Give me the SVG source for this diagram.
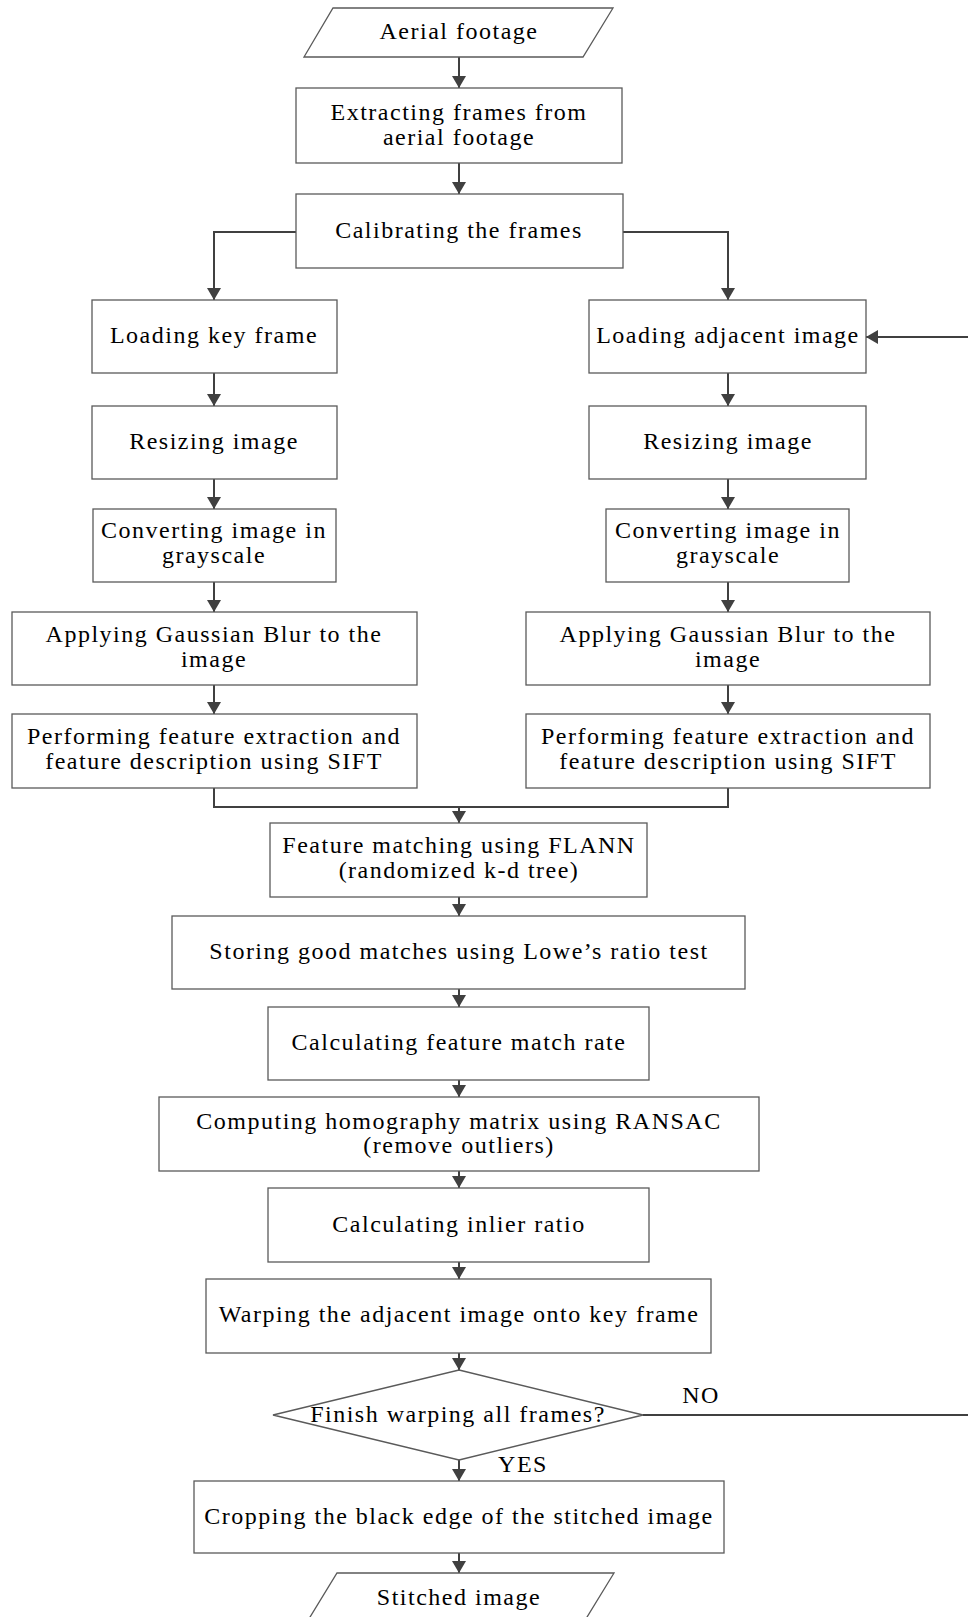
<svg xmlns="http://www.w3.org/2000/svg" width="968" height="1617" viewBox="0 0 968 1617">
<defs>
<marker id="ah" markerUnits="userSpaceOnUse" markerWidth="12" markerHeight="14" viewBox="0 0 12 14" refX="12" refY="7" orient="auto">
<path d="M0,0 L12,7 L0,14 z" fill="#404040"/>
</marker>
</defs>
<style>
.box{fill:#fff;stroke:#5a5a5a;stroke-width:1.3}
.t{font-family:"Liberation Serif","Times New Roman",serif;font-size:24px;fill:#000;text-anchor:middle;letter-spacing:1.5px}
.c{fill:none;stroke:#404040;stroke-width:2}
.a{fill:none;stroke:#404040;stroke-width:2;marker-end:url(#ah)}
</style>
<rect width="968" height="1617" fill="#fff"/>
<g id="connectors">
<line class="a" x1="459" y1="57" x2="459" y2="88"/>
<line class="a" x1="459" y1="163" x2="459" y2="194"/>
<polyline class="a" points="296,232 214,232 214,300"/>
<polyline class="a" points="623,232 728,232 728,300"/>
<line class="a" x1="968" y1="337" x2="866" y2="337"/>
<line class="a" x1="214" y1="373" x2="214" y2="406"/>
<line class="a" x1="214" y1="479" x2="214" y2="509"/>
<line class="a" x1="214" y1="582" x2="214" y2="612"/>
<line class="a" x1="214" y1="685" x2="214" y2="714"/>
<line class="a" x1="728" y1="373" x2="728" y2="406"/>
<line class="a" x1="728" y1="479" x2="728" y2="509"/>
<line class="a" x1="728" y1="582" x2="728" y2="612"/>
<line class="a" x1="728" y1="685" x2="728" y2="714"/>
<polyline class="c" points="214,788 214,807 728,807 728,788"/>
<line class="a" x1="459" y1="807" x2="459" y2="823"/>
<line class="a" x1="459" y1="897" x2="459" y2="916"/>
<line class="a" x1="459" y1="989" x2="459" y2="1007"/>
<line class="a" x1="459" y1="1080" x2="459" y2="1097"/>
<line class="a" x1="459" y1="1171" x2="459" y2="1188"/>
<line class="a" x1="459" y1="1262" x2="459" y2="1279"/>
<line class="a" x1="459" y1="1353" x2="459" y2="1370"/>
<line class="c" x1="643" y1="1415" x2="968" y2="1415"/>
<line class="a" x1="459" y1="1460" x2="459" y2="1481"/>
<line class="a" x1="459" y1="1553" x2="459" y2="1573"/>
</g>
<g id="n-aerial"><polygon class="box" points="333,8 613,8 583,57 304,57"/><text class="t" x="459" y="39" font-family="Liberation Serif, serif">Aerial footage</text></g>
<g id="n-extract"><rect class="box" x="296" y="88" width="326" height="75"/><text class="t" x="459" y="120">Extracting frames from</text><text class="t" x="459" y="145">aerial footage</text></g>
<g id="n-calib"><rect class="box" x="296" y="194" width="327" height="74"/><text class="t" x="459" y="238">Calibrating the frames</text></g>
<g id="n-loadkey"><rect class="box" x="92" y="300" width="245" height="73"/><text class="t" x="214" y="343">Loading key frame</text></g>
<g id="n-resize-l"><rect class="box" x="92" y="406" width="245" height="73"/><text class="t" x="214" y="449">Resizing image</text></g>
<g id="n-gray-l"><rect class="box" x="93" y="509" width="243" height="73"/><text class="t" x="214" y="538">Converting image in</text><text class="t" x="214" y="563">grayscale</text></g>
<g id="n-blur-l"><rect class="box" x="12" y="612" width="405" height="73"/><text class="t" x="214" y="642">Applying Gaussian Blur to the</text><text class="t" x="214" y="667">image</text></g>
<g id="n-sift-l"><rect class="box" x="12" y="714" width="405" height="74"/><text class="t" x="214" y="744">Performing feature extraction and</text><text class="t" x="214" y="769">feature description using SIFT</text></g>
<g id="n-loadadj"><rect class="box" x="589" y="300" width="277" height="73"/><text class="t" x="728" y="343">Loading adjacent image</text></g>
<g id="n-resize-r"><rect class="box" x="589" y="406" width="277" height="73"/><text class="t" x="728" y="449">Resizing image</text></g>
<g id="n-gray-r"><rect class="box" x="606" y="509" width="243" height="73"/><text class="t" x="728" y="538">Converting image in</text><text class="t" x="728" y="563">grayscale</text></g>
<g id="n-blur-r"><rect class="box" x="526" y="612" width="404" height="73"/><text class="t" x="728" y="642">Applying Gaussian Blur to the</text><text class="t" x="728" y="667">image</text></g>
<g id="n-sift-r"><rect class="box" x="526" y="714" width="404" height="74"/><text class="t" x="728" y="744">Performing feature extraction and</text><text class="t" x="728" y="769">feature description using SIFT</text></g>
<g id="n-flann"><rect class="box" x="270" y="823" width="377" height="74"/><text class="t" x="459" y="853">Feature matching using FLANN</text><text class="t" x="459" y="878">(randomized k-d tree)</text></g>
<g id="n-lowe"><rect class="box" x="172" y="916" width="573" height="73"/><text class="t" x="459" y="959">Storing good matches using Lowe’s ratio test</text></g>
<g id="n-rate"><rect class="box" x="268" y="1007" width="381" height="73"/><text class="t" x="459" y="1050">Calculating feature match rate</text></g>
<g id="n-homo"><rect class="box" x="159" y="1097" width="600" height="74"/><text class="t" x="459" y="1129">Computing homography matrix using RANSAC</text><text class="t" x="459" y="1153">(remove outliers)</text></g>
<g id="n-inlier"><rect class="box" x="268" y="1188" width="381" height="74"/><text class="t" x="459" y="1232">Calculating inlier ratio</text></g>
<g id="n-warp"><rect class="box" x="206" y="1279" width="505" height="74"/><text class="t" x="459" y="1322">Warping the adjacent image onto key frame</text></g>
<g id="n-finish"><polygon class="box" points="459,1370 643,1415 459,1460 273,1415"/><text class="t" x="458" y="1422">Finish warping all frames?</text></g>
<g id="l-no"><text class="t" x="701" y="1403">NO</text></g>
<g id="l-yes"><text class="t" x="523" y="1472">YES</text></g>
<g id="n-crop"><rect class="box" x="194" y="1481" width="530" height="72"/><text class="t" x="459" y="1524">Cropping the black edge of the stitched image</text></g>
<g id="n-stitched"><polygon class="box" points="337,1573 614,1573 584,1622 307,1622"/><text class="t" x="459" y="1605">Stitched image</text></g>
</svg>
